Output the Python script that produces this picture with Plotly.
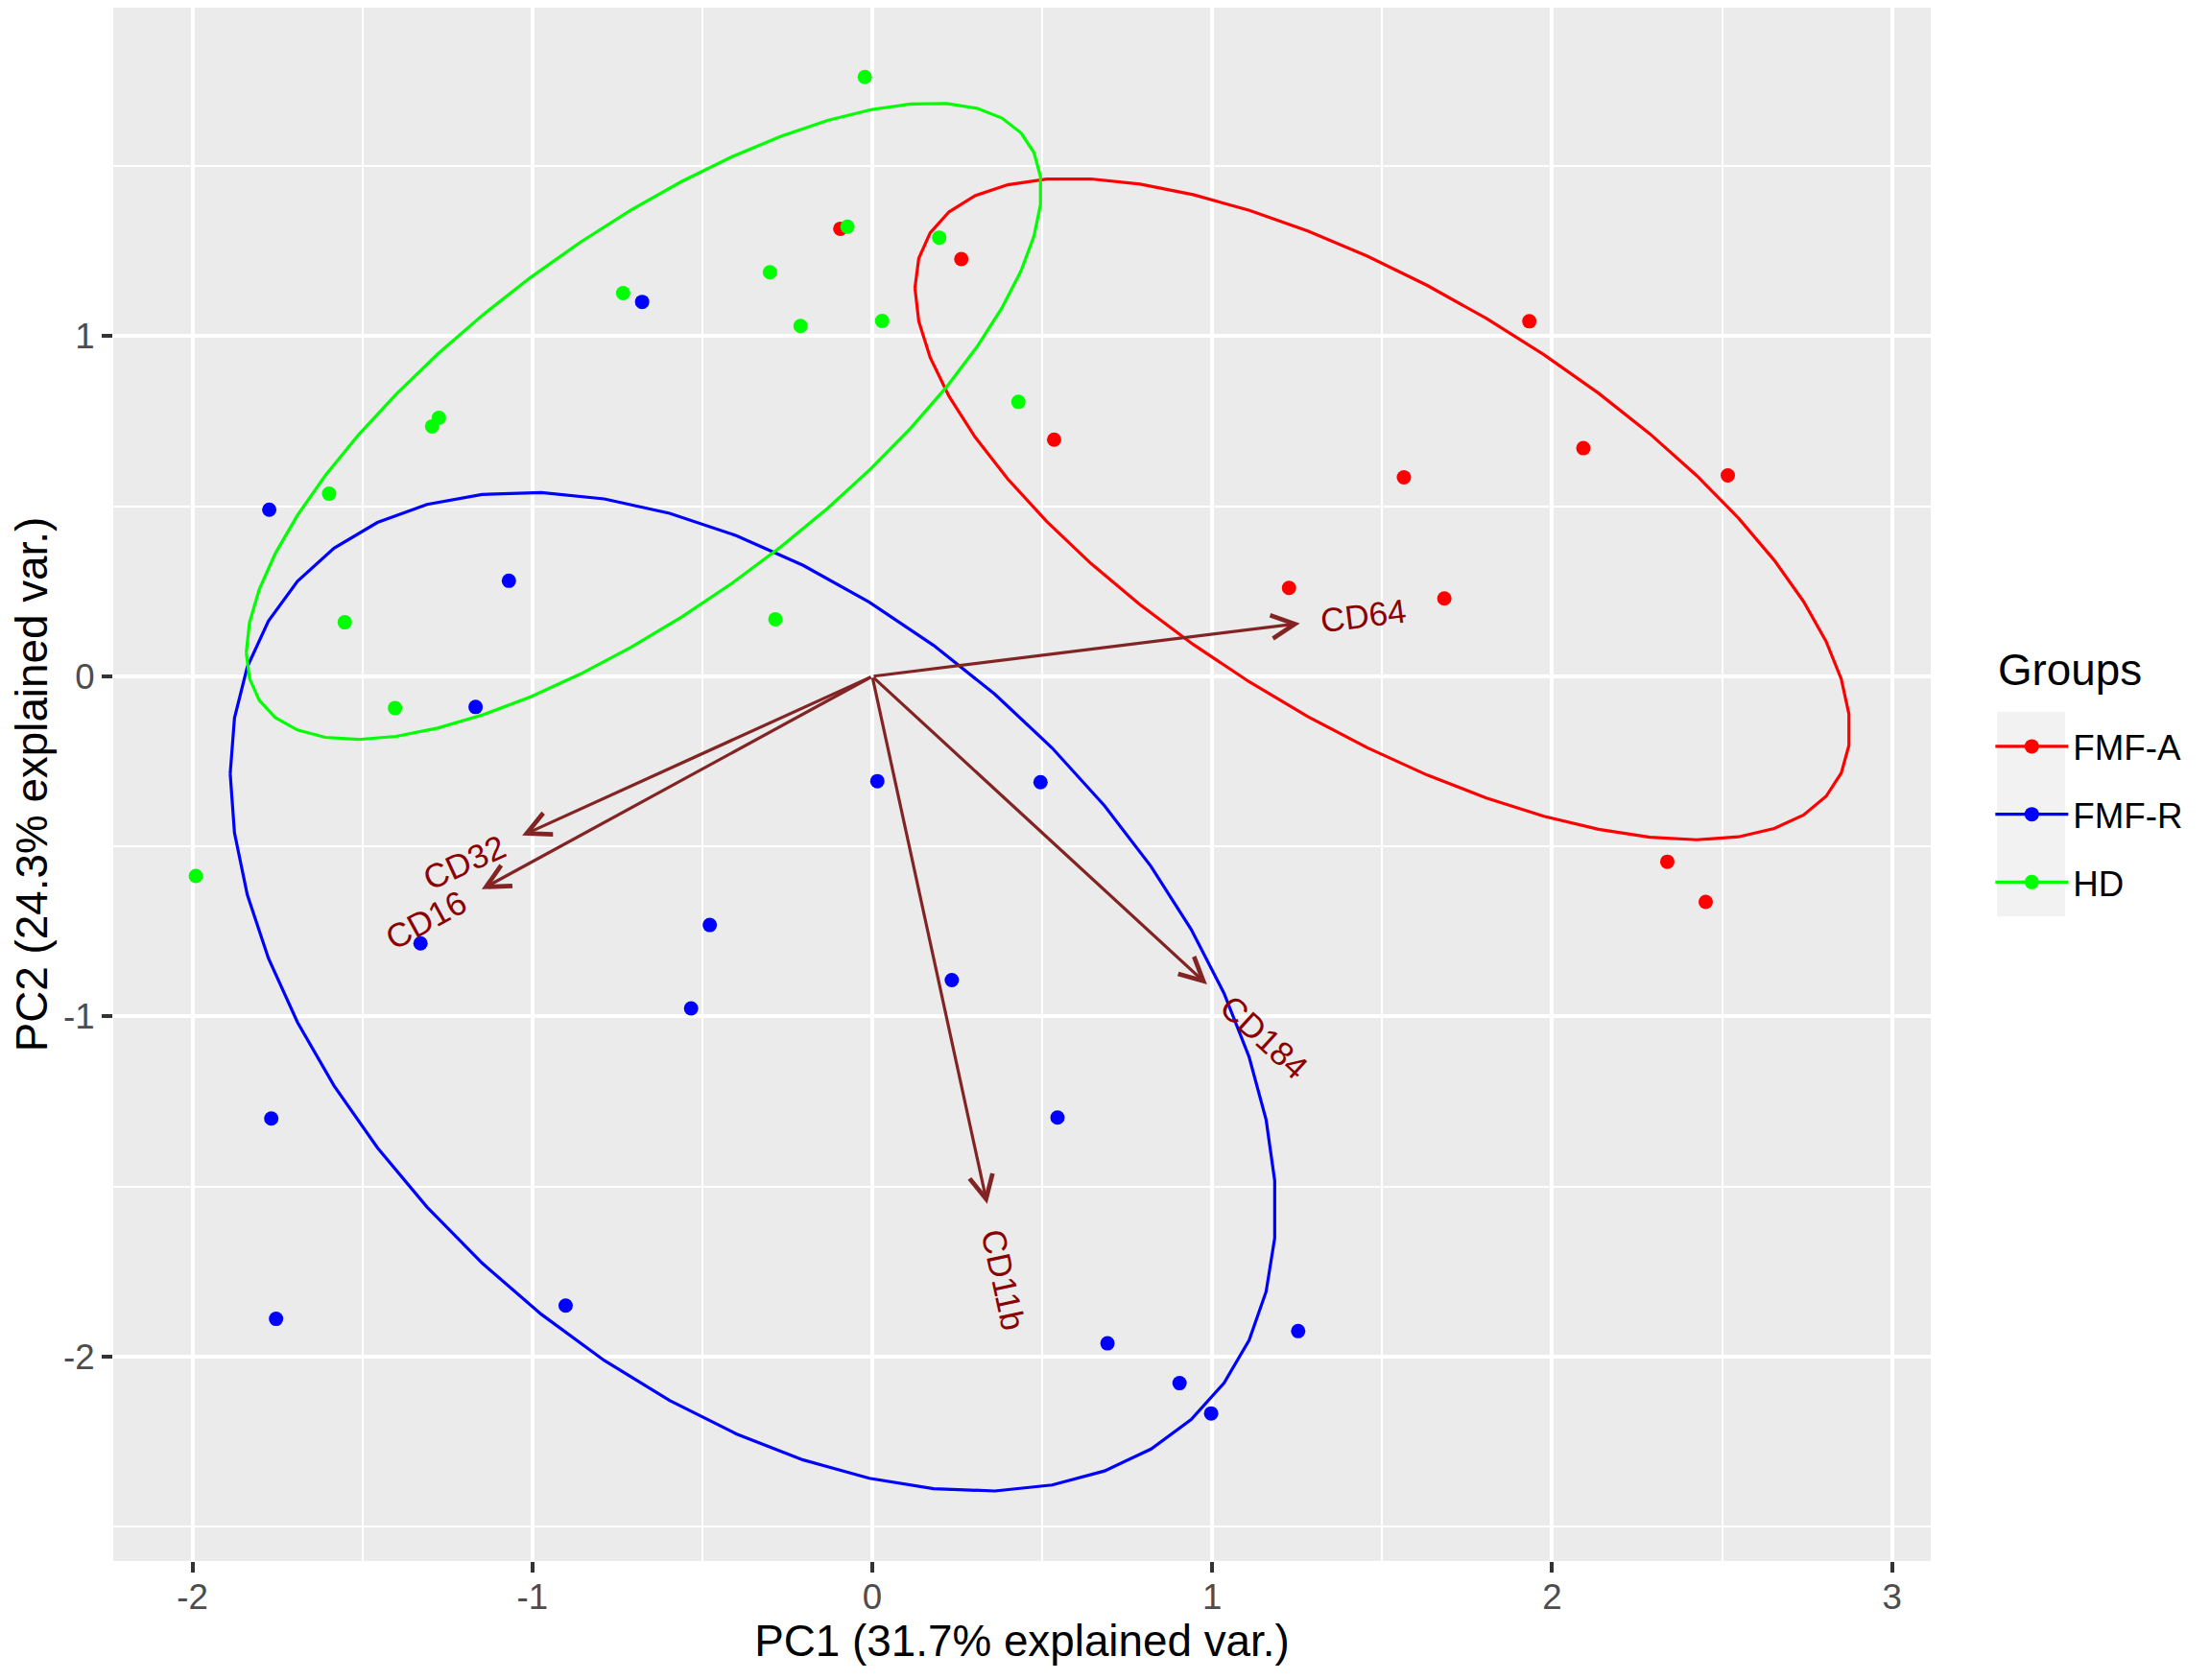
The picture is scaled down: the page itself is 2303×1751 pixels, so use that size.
import numpy as np
import plotly.graph_objects as go

# PCA scores, one pair of arrays per group
fmfa_x = [-0.094, 0.262, 1.933, 2.092, 0.535, 1.564, 2.517, 1.226, 1.683, 2.339, 2.452]
fmfa_y = [1.316, 1.227, 1.044, 0.671, 0.696, 0.585, 0.591, 0.260, 0.229, -0.545, -0.663]

fmfr_x = [-0.677, -1.774, -1.069, -1.167, 0.015, 0.495, -0.478, -1.329, -0.533,
          0.234, 0.545, -1.768, -1.754, -0.902, 0.692, 1.253, 0.904, 0.997]
fmfr_y = [1.101, 0.490, 0.281, -0.090, -0.308, -0.311, -0.731, -0.785, -0.976,
          -0.893, -1.297, -1.300, -1.889, -1.850, -1.961, -1.925, -2.078, -2.167]

hd_x = [-0.022, -0.073, 0.197, -0.301, -0.733, -0.211, 0.029, -1.275, -1.295,
        0.430, -1.598, -1.552, -0.285, -1.404, -1.990]
hd_y = [1.762, 1.322, 1.290, 1.188, 1.127, 1.030, 1.045, 0.760, 0.735,
        0.807, 0.537, 0.159, 0.168, -0.093, -0.587]

# variable loadings (arrow tips)
var_names = ["CD64", "CD32", "CD16", "CD184", "CD11b"]
var_x = [1.258, -1.030, -1.149, 0.985, 0.338]
var_y = [0.156, -0.468, -0.626, -0.906, -1.551]

x_ticks = [-2, -1, 0, 1, 2, 3]
x_tick_labels = ["-2", "-1", "0", "1", "2", "3"]
y_ticks = [-2, -1, 0, 1]
y_tick_labels = ["-2", "-1", "0", "1"]

groups = [
    ("FMF-A", fmfa_x, fmfa_y, "#FF0000"),
    ("FMF-R", fmfr_x, fmfr_y, "#0000FF"),
    ("HD", hd_x, hd_y, "#00FF00"),
]

FONT = "Liberation Sans, Arial, sans-serif"


# normal data ellipse like ggbiplot (ellipse.prob = 0.68)
def data_ellipse(x, y, prob=0.68, n=50):
    pts = np.column_stack([x, y])
    mu = pts.mean(axis=0)
    sigma = np.cov(pts, rowvar=False)
    ed = np.sqrt(-2 * np.log(1 - prob))
    theta = np.linspace(-np.pi, np.pi, n)
    circle = np.column_stack([np.cos(theta), np.sin(theta)])
    ell = circle @ np.linalg.cholesky(sigma).T * ed + mu
    return ell[:, 0], ell[:, 1]


# rough Arial advance widths, used to push labels past the arrow tips
char_w = {"C": 0.722, "D": 0.722, "b": 0.556}
label_px = 34.5
px_per_unit = 354.3


def label_width(s):
    return sum(char_w.get(c, 0.556) for c in s) * label_px / px_per_unit


fig = go.Figure()

for name, gx, gy, col in groups:
    fig.add_trace(go.Scatter(x=gx, y=gy, mode="markers", name=name,
                             marker=dict(color=col, size=15),
                             legendgroup=name, showlegend=False))

for name, gx, gy, col in groups:
    ex, ey = data_ellipse(gx, gy)
    fig.add_trace(go.Scatter(x=ex, y=ey, mode="lines", name=name,
                             line=dict(color=col, width=3.2),
                             legendgroup=name, showlegend=False))

# legend keys (line + point, like ggplot)
for name, gx, gy, col in groups:
    fig.add_trace(go.Scatter(x=[None], y=[None], mode="lines+markers", name=name,
                             line=dict(color=col, width=3.2),
                             marker=dict(color=col, size=15),
                             legendgroup=name, showlegend=True))

# arrows and labels
for name, vx, vy in zip(var_names, var_x, var_y):
    fig.add_annotation(x=vx, y=vy, ax=0, ay=0, xref="x", yref="y",
                       axref="x", ayref="y", text="", showarrow=True,
                       arrowhead=5, arrowsize=1.5, arrowwidth=3.2,
                       arrowcolor="#832424", standoff=0)
    ang = np.degrees(np.arctan(vy / vx))
    r = np.hypot(vx, vy)
    off = 0.75 * label_width(name)
    lx = vx + vx / r * off
    ly = vy + vy / r * off
    fig.add_annotation(x=lx, y=ly, xref="x", yref="y", text=name,
                       showarrow=False, textangle=-ang,
                       xanchor="center", yanchor="middle",
                       font=dict(family=FONT, size=35, color="#8B0000"))

axis_common = dict(
    showgrid=True, gridcolor="white", gridwidth=3.8, zeroline=False,
    ticks="outside", ticklen=11, tickwidth=3.5, tickcolor="#333333",
    tickfont=dict(family=FONT, size=36.7, color="#4D4D4D"),
    showline=False, tickmode="array",
    minor=dict(tick0=0, dtick=0.5, showgrid=True, gridcolor="white", gridwidth=1.9),
)

fig.update_xaxes(range=[-2.233, 3.114], tickvals=x_ticks, ticktext=x_tick_labels,
                 ticklabelstandoff=-6,
                 title=dict(text="PC1 (31.7% explained var.)",
                            font=dict(family=FONT, size=45.8, color="black"),
                            standoff=8),
                 **axis_common)
fig.update_yaxes(range=[-2.601, 1.966], tickvals=y_ticks, ticktext=y_tick_labels,
                 title=dict(text="PC2 (24.3% explained var.)",
                            font=dict(family=FONT, size=45.8, color="black"),
                            standoff=8),
                 **axis_common)

# legend title and the grey key background, placed like ggplot's guide
fig.add_annotation(xref="paper", yref="paper", x=1.0359, y=0.5738,
                   xanchor="left", yanchor="middle", showarrow=False,
                   text="Groups", font=dict(family=FONT, size=45.8, color="black"))
fig.add_shape(type="rect", xref="paper", yref="paper",
              x0=1.0364, x1=1.0739, y0=0.4151, y1=0.5468,
              fillcolor="#F2F2F2", line=dict(width=0), layer="below")

# page body has an 8px margin, so the figure is 8px smaller each way
fig.update_layout(
    width=2295, height=1743,
    margin=dict(l=110, r=291, t=0, b=124),
    plot_bgcolor="#EBEBEB", paper_bgcolor="white",
    font=dict(family=FONT),
    legend=dict(
        font=dict(family=FONT, size=36.7, color="black"),
        x=1.0329, xanchor="left", y=0.4805, yanchor="middle",
        bgcolor="rgba(0,0,0,0)", traceorder="grouped", tracegroupgap=20,
        itemwidth=76,
    ),
)

fig.write_html("out.html")
